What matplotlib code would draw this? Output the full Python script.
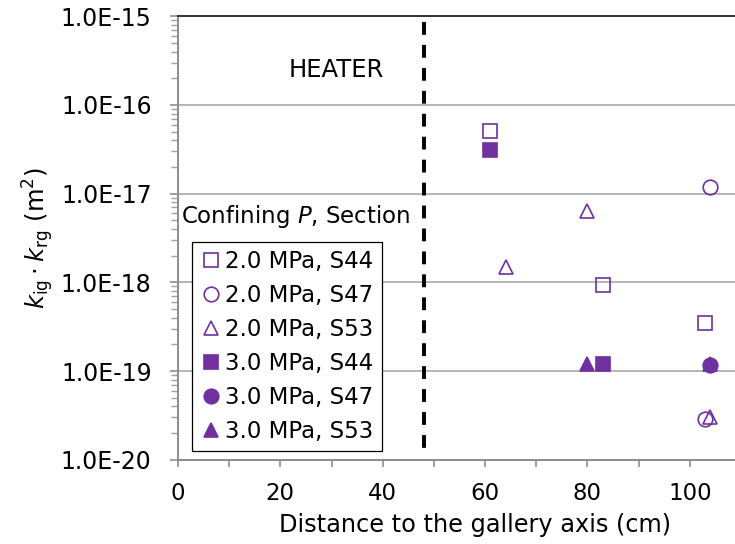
import matplotlib
matplotlib.use("Agg")
import matplotlib.pyplot as plt
from matplotlib.ticker import FixedLocator, FuncFormatter, LogLocator, NullFormatter

plt.rcParams["font.family"] = ["DejaVu Sans"]
plt.rcParams["mathtext.fontset"] = "dejavusans"

# Gas permeability (k_ig * k_rg, m^2) vs distance to the gallery axis (cm)
labels = ["2.0 MPa, S44", "2.0 MPa, S47", "2.0 MPa, S53",
          "3.0 MPa, S44", "3.0 MPa, S47", "3.0 MPa, S53"]

x_20_s44 = [61, 83, 103]
y_20_s44 = [5.1e-17, 9.4e-19, 3.5e-19]

x_20_s47 = [104, 103]
y_20_s47 = [1.2e-17, 2.9e-20]

x_20_s53 = [64, 80, 104]
y_20_s53 = [1.5e-18, 6.4e-18, 3.0e-20]

x_30_s44 = [61, 83]
y_30_s44 = [3.1e-17, 1.2e-19]

x_30_s47 = [104]
y_30_s47 = [1.17e-19]

x_30_s53 = [80, 104]
y_30_s53 = [1.2e-19, 1.2e-19]

heater_x = 48
x_ticks = [0, 20, 40, 60, 80, 100]
y_decades = [1e-20, 1e-19, 1e-18, 1e-17, 1e-16, 1e-15]

purple = "#7030A0"
W, H = 735, 544
fig = plt.figure(figsize=(W / 100, H / 100), dpi=100)

left_px, right_px, top_px, bot_px = 178, 741, 16.3, 459.7
ax = fig.add_axes([left_px / W, 1 - bot_px / H,
                   (right_px - left_px) / W, (bot_px - top_px) / H])

ax.set_yscale("log")
ax.set_xlim(0, 110)
ax.set_ylim(1e-20, 1e-15)

# decade grid lines
for yv in y_decades[1:-1]:
    ax.axhline(yv, color="#a0a0a0", lw=1.1, zorder=1)

# heater boundary
ax.plot([heater_x, heater_x], [8.6e-16, 1.13e-20], color="black", lw=2.8,
        dashes=(3.3, 2.6), dash_capstyle="butt", zorder=2)
ax.text(31, 2.45e-16, "HEATER", fontsize=17.5, ha="center", va="center")

ms = 10.5
mew = 1.2
series = [
    (x_20_s44, y_20_s44, "s", "none"),
    (x_20_s47, y_20_s47, "o", "none"),
    (x_20_s53, y_20_s53, "^", "none"),
    (x_30_s44, y_30_s44, "s", purple),
    (x_30_s47, y_30_s47, "o", purple),
    (x_30_s53, y_30_s53, "^", purple),
]
handles = []
for (xs, ys, mk, fc), lab in zip(series, labels):
    h, = ax.plot(xs, ys, linestyle="none", marker=mk, markersize=ms,
                 markerfacecolor=fc, markeredgecolor=purple,
                 markeredgewidth=mew, label=lab, zorder=3)
    handles.append(h)

# axes styling
ax.spines["right"].set_visible(False)
ax.spines["top"].set_color("#222222")
ax.spines["top"].set_linewidth(1.3)
for s in ["left", "bottom"]:
    ax.spines[s].set_color("#8c8c8c")
    ax.spines[s].set_linewidth(1.4)

ax.xaxis.set_major_locator(FixedLocator(list(range(0, 111, 10))))
ax.xaxis.set_major_formatter(
    FuncFormatter(lambda v, p: f"{int(v)}" if int(v) in x_ticks else ""))
ax.tick_params(axis="x", direction="out", length=5, width=1.2,
               color="#8c8c8c", labelsize=16.5, pad=11)

ax.yaxis.set_major_locator(FixedLocator(y_decades))
ax.yaxis.set_major_formatter(FuncFormatter(lambda v, p: f"{v:.1E}"))
ax.yaxis.set_minor_locator(LogLocator(base=10, subs=range(2, 10), numticks=20))
ax.yaxis.set_minor_formatter(NullFormatter())
ax.tick_params(axis="y", which="major", direction="out", length=6, width=1.2,
               color="#8c8c8c", labelsize=17, pad=13)
ax.tick_params(axis="y", which="minor", direction="out", length=5, width=1.0,
               color="#a0a0a0")

# legend with its heading above the frame
fig.text(296 / W, 1 - 216.5 / H, "Confining $P$, Section", fontsize=16.5,
         ha="center", va="center")
leg = fig.legend(handles=handles, labels=labels, loc="upper left",
                 bbox_to_anchor=(192 / W, 1 - 242 / H),
                 fontsize=16.5, frameon=True, fancybox=False,
                 edgecolor="black", framealpha=1, borderpad=0.34,
                 handlelength=1.0, handletextpad=0.12, labelspacing=0.48,
                 borderaxespad=0, markerscale=1.0, numpoints=1)
leg.get_frame().set_linewidth(0.9)

fig.text(475 / W, 1 - 525 / H, "Distance to the gallery axis (cm)",
         fontsize=17.3, ha="center", va="center")
fig.text(38 / W, 1 - 238 / H,
         r"$k_{\mathrm{ig}}\cdot k_{\mathrm{rg}}$ (m$^{2}$)",
         fontsize=17.5, rotation=90, ha="center", va="center")

fig.savefig("out.png", dpi=100)
